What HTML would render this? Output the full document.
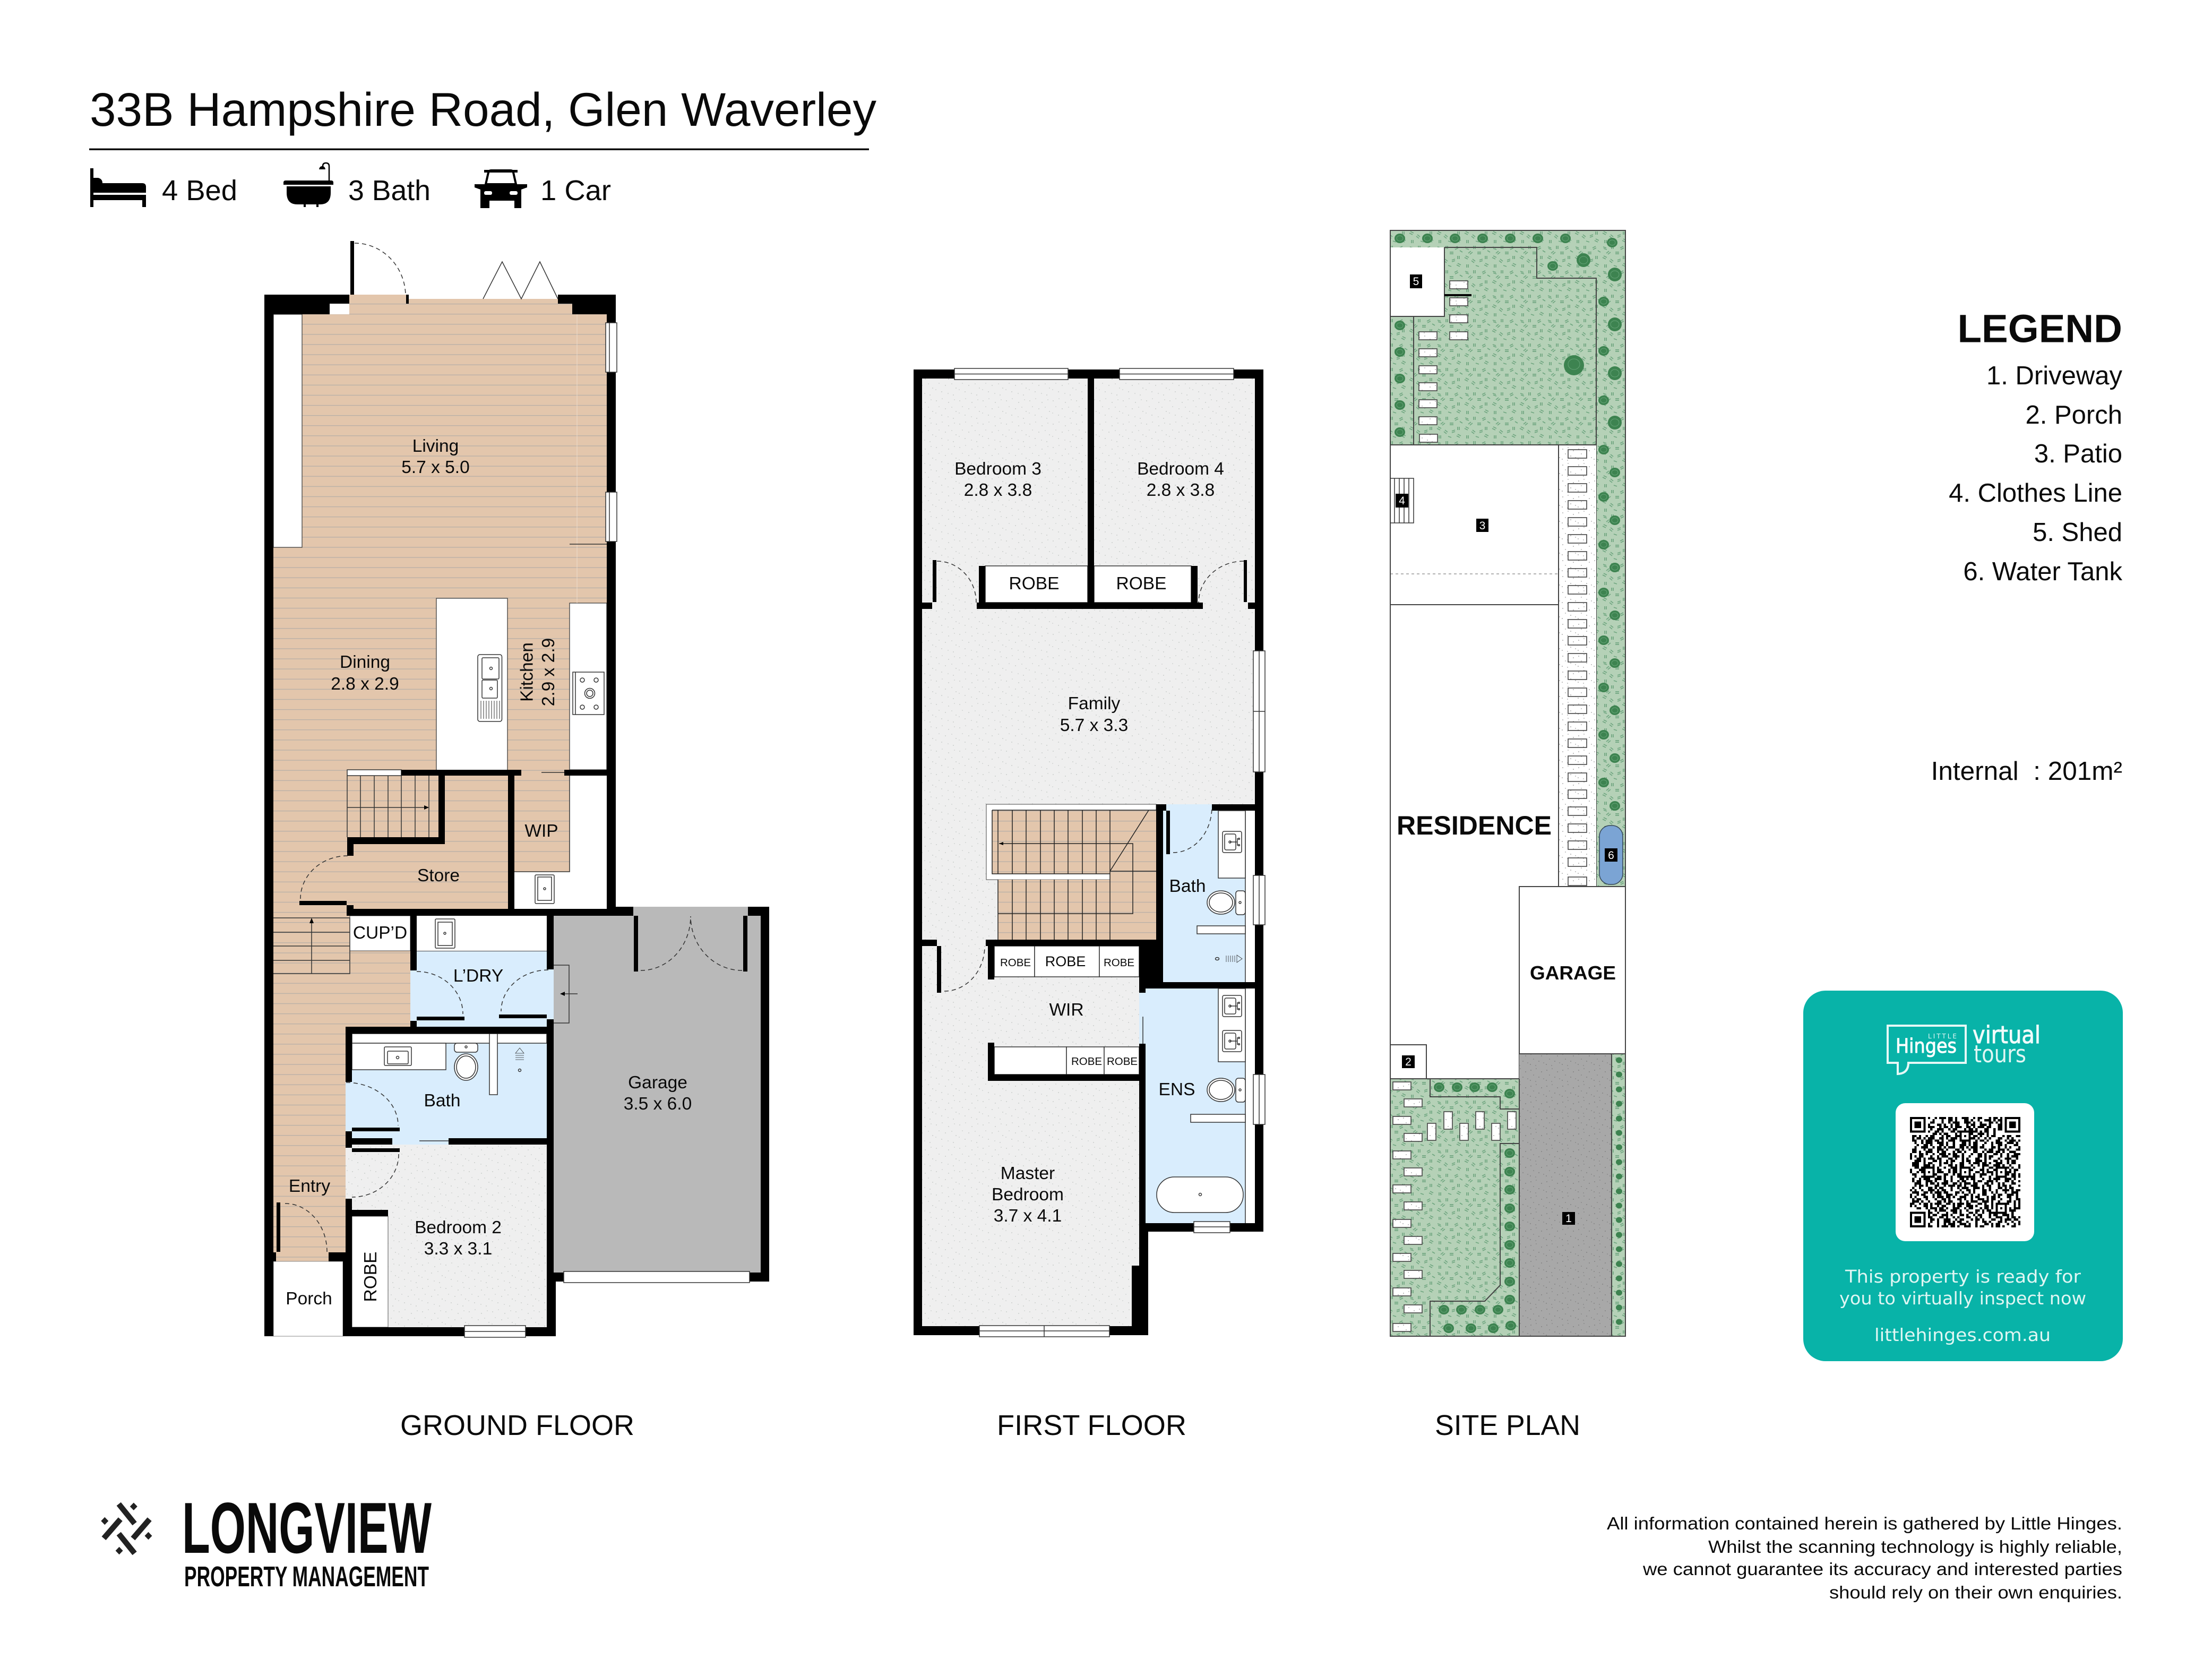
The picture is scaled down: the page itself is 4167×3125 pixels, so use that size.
<!DOCTYPE html>
<html><head><meta charset="utf-8"><title>33B Hampshire Road, Glen Waverley</title>
<style>
html,body{margin:0;padding:0;background:#fff}
svg{display:block}
text{font-family:"Liberation Sans",sans-serif;fill:#0a0a0a}
.l{font-size:33.5px;text-anchor:middle}
.n{font-size:21px;fill:#fff;text-anchor:middle}
.d{fill:none;stroke:#333;stroke-width:1.5;stroke-dasharray:8 6}
.t{fill:none;stroke:#333;stroke-width:1.5}
.w{fill:#fff;stroke:#333;stroke-width:1.5}
.s{fill:url(#grav);stroke:#444;stroke-width:1.6}
.g{fill:none;stroke:#444;stroke-width:2}
.c{font-family:"DejaVu Sans",sans-serif;fill:#dff6f3}
.q path{fill:none;stroke:#000;stroke-width:1}
.a{stroke-dasharray:2 1 1 3 2 2 1 1 3 1 2 1 1 2 3 2 1 1 2 3 1 1}
.b{stroke-dasharray:1 2 3 1 1 1 2 2 1 3 1 2 2 1 1 3 2 1 1 2}
.e{stroke-dasharray:3 1 1 2 1 3 2 1 1 1 2 3 1 2 1 1 3 2}
.f{stroke-dasharray:1 1 2 2 3 1 1 3 2 1 1 2 1 1 2 3}
.h{stroke-dasharray:2 2 1 1 1 3 1 2 3 2 1 1 2 1 1 1 3}
</style></head><body>
<svg xmlns="http://www.w3.org/2000/svg" width="4167" height="3125" viewBox="0 0 4167 3125">
<defs>
<pattern id="pl" patternUnits="userSpaceOnUse" x="0" y="591" width="40" height="19.1"><rect width="40" height="19.1" fill="#e3c6ac"/><rect y="0" width="40" height="1.3" fill="#b8afa7"/></pattern>
<pattern id="sp" patternUnits="userSpaceOnUse" width="44" height="44"><rect width="44" height="44" fill="#efefef"/><g fill="#bfc4c1"><circle cx="4" cy="7" r=".9"/><circle cx="15" cy="3" r=".8"/><circle cx="27" cy="10" r=".9"/><circle cx="38" cy="5" r=".8"/><circle cx="9" cy="18" r=".8"/><circle cx="21" cy="22" r=".9"/><circle cx="33" cy="19" r=".8"/><circle cx="41" cy="27" r=".9"/><circle cx="3" cy="30" r=".8"/><circle cx="14" cy="34" r=".9"/><circle cx="26" cy="37" r=".8"/><circle cx="36" cy="40" r=".9"/></g></pattern>
<pattern id="grav" patternUnits="userSpaceOnUse" width="30" height="30"><rect width="30" height="30" fill="#fff"/><g fill="#777"><circle cx="4" cy="6" r=".8"/><circle cx="14" cy="3" r=".7"/><circle cx="24" cy="9" r=".8"/><circle cx="9" cy="15" r=".7"/><circle cx="19" cy="19" r=".8"/><circle cx="28" cy="22" r=".7"/><circle cx="3" cy="25" r=".8"/><circle cx="13" cy="27" r=".7"/></g></pattern>
<pattern id="dr" patternUnits="userSpaceOnUse" width="30" height="30"><rect width="30" height="30" fill="#a8a8a8"/><g fill="#7a7a7a"><circle cx="4" cy="6" r=".9"/><circle cx="14" cy="3" r=".8"/><circle cx="24" cy="9" r=".9"/><circle cx="9" cy="15" r=".8"/><circle cx="19" cy="19" r=".9"/><circle cx="28" cy="22" r=".8"/><circle cx="3" cy="25" r=".9"/><circle cx="13" cy="27" r=".8"/></g></pattern>
<pattern id="gr" patternUnits="userSpaceOnUse" width="52" height="46"><rect width="52" height="46" fill="#b5d1b7"/><g stroke="#6fa680" stroke-width="1.7"><path d="M4 5l6 2M5 8l6 2M20 3v6M23 3v6M36 7l6-3M37 10l6-3M46 12l5 3M10 17l5-4M13 19l5-4M27 15h7M27 18h7M42 22v6M45 22v6M3 25l6 3M5 22l6 3M18 28l5 4M16 31l5 4M31 30l6-2M31 33l6-2M7 38v6M10 38v6M24 40l6 2M42 36l6 3M40 39l6 3"/></g></pattern>
<g id="t"><ellipse rx="10" ry="9" fill="#3d8350"/><ellipse rx="6" ry="5" fill="none" stroke="#64a376" stroke-width="1"/></g>
<g id="T"><ellipse rx="13" ry="13" fill="#3d8350"/><ellipse rx="8" ry="7" fill="none" stroke="#64a376" stroke-width="1"/></g>
<g id="m"><ellipse rx="6" ry="5.5" fill="#3d8350"/></g>
<g id="bs"><rect width="36" height="40" rx="3" class="w"/><rect x="4" y="5" width="21" height="30" rx="3" class="w"/><circle cx="14" cy="20" r="2" class="t"/><path class="t" d="M14 20h13M28 13v14"/><circle cx="31" cy="14" r="1.4" class="t"/><circle cx="31" cy="26" r="1.4" class="t"/></g>
<g id="tl"><ellipse cx="26" cy="22" rx="26" ry="22" class="w"/><ellipse cx="26" cy="22" rx="22" ry="18" class="w"/><rect x="54" y="0" width="18" height="45" rx="5" class="w"/><circle cx="62" cy="22" r="2" class="t"/></g>
</defs>
<rect width="4167" height="3125" fill="#fff"/>

<!-- header -->
<text x="169" y="237" font-size="88.7" textLength="1482" lengthAdjust="spacingAndGlyphs">33B Hampshire Road, Glen Waverley</text>
<rect x="168" y="279.5" width="1469" height="3.5" fill="#111"/>
<path d="M170 317h6v18h9q8 2 8 10h75q7 0 7 7v11H176v4h99v10h0v13h-7v-13H176v13h-6z"/>
<rect x="176" y="363" width="99" height="4" fill="#fff"/>
<path d="M534 344q0-4 4-4h86q4 0 4 4v4h-94zM540 351h83v12q0 22-20 22h-3v5h-4v-5h-20v5h-4v-5h-12q-20 0-20-22z"/>
<path d="M620 340V313q0-6-6-6t-6 6v3" fill="none" stroke="#000" stroke-width="2.5"/><path d="M601 319q1-6 6-6t6 6z"/>
<path d="M915 347l5-22q1-4 5-4h37q4 0 5 4l5 22z" fill="#fff" stroke="#000" stroke-width="4"/><rect x="912" y="320" width="63" height="5"/>
<path d="M894 347h99v6l-11 4v21h0v14h-13v-14h-47v14h-17v-14h0v-21l-11-4z"/>
<rect x="912" y="360" width="15" height="7" rx="3" fill="#fff"/><rect x="960" y="360" width="15" height="7" rx="3" fill="#fff"/>
<text x="305" y="377" font-size="54" textLength="142" lengthAdjust="spacingAndGlyphs">4 Bed</text>
<text x="656" y="377" font-size="54" textLength="155" lengthAdjust="spacingAndGlyphs">3 Bath</text>
<text x="1018" y="377" font-size="54" textLength="133" lengthAdjust="spacingAndGlyphs">1 Car</text>

<!-- GROUND FLOOR floors -->
<g fill="url(#pl)">
<path d="M515 592H658V555H765V572H770V563H1051V572H1078V592H1143V1461H1073V1642H969V1712H515ZM515 1712H773V1934H651V2376H515Z"/>
</g>
<g fill="#fff" stroke="#333" stroke-width="1.2">
<rect x="515" y="592" width="54" height="439"/>
<rect x="822" y="1127" width="134" height="328"/>
<rect x="1073" y="1136" width="70" height="314"/>
</g>
<rect x="969" y="1642" width="174" height="70" fill="#fff"/>
<rect x="1073" y="1461" width="70" height="181" fill="#fff"/>
<rect x="659" y="1725" width="114" height="66" fill="#fff" stroke="#444" stroke-width="1"/>
<path d="M1087 592V1136" fill="none" stroke="#ecdccd" stroke-width="1"/>
<path class="t" d="M1073 1025H1143M1020 1455H1063M969 1642H1073V1461"/>
<!-- blue / grey rooms -->
<rect x="785" y="1725" width="245" height="66" fill="#fff"/>
<path fill="#d9edfd" d="M785 1791H1030V1826H1043V1920H1030V1934H785V1923H773V1828H785ZM651 1947H1030V2144H845V2156H739V2144H651Z"/>
<rect x="651" y="2156" width="379" height="344" fill="url(#sp)"/>
<path fill="#b9b9b9" d="M1043 1725H1193V1708H1409V1725H1433V2398H1043Z"/>
<rect x="785" y="1791" width="245" height="1" fill="#444"/>
<rect x="663" y="2291" width="68" height="209" fill="#fff" stroke="#555" stroke-width="1"/>
<rect x="515" y="2376" width="131" height="141" fill="#fff" stroke="#888" stroke-width="1"/>
<!-- bath fixtures -->
<rect x="663" y="1947" width="367" height="18" class="w"/>
<rect x="663" y="1965" width="177" height="50" class="w"/>
<rect x="724" y="1972" width="51" height="35" rx="2" class="w"/><rect x="730" y="1980" width="39" height="24" rx="2" class="w"/><circle cx="749" cy="1992" r="2.5" class="t"/>
<rect x="856" y="1965" width="44" height="17" rx="5" class="w"/><circle cx="878" cy="1972" r="2" class="t"/>
<ellipse cx="878" cy="2010" rx="22" ry="25" class="w"/><ellipse cx="878" cy="2010" rx="18" ry="21" class="w"/>
<rect x="922" y="1947" width="15" height="115" class="w"/>
<path class="t" style="stroke-width:.8" d="M971 1984l8-10 8 10zM971 1988h16M971 1992h16M971 1996h16"/><circle cx="979" cy="2016" r="2.5" class="t"/>
<path class="t" d="M790 2149H845"/>
<!-- kitchen fixtures -->
<rect x="900" y="1233" width="45.500" height="126" rx="4" class="w"/>
<rect x="908" y="1239" width="32" height="40" rx="2" class="w"/><rect x="908" y="1281" width="29" height="34" rx="2" class="w"/>
<path class="t" style="stroke-width:1" d="M906 1320v34M911 1320v34M916 1320v34M921 1320v34M926 1320v34M931 1320v34M936 1320v34M941 1320v34"/>
<circle cx="925" cy="1259" r="2.500" class="t"/><circle cx="925" cy="1297" r="2.500" class="t"/>
<rect x="1079" y="1266" width="59" height="80" class="w"/><path class="t" d="M1084 1266v80"/>
<circle cx="1097" cy="1281" r="4" class="t"/><circle cx="1123" cy="1281" r="4" class="t"/><circle cx="1097" cy="1332" r="4" class="t"/><circle cx="1123" cy="1332" r="4" class="t"/><circle cx="1111" cy="1306" r="9.500" class="t"/><circle cx="1111" cy="1306" r="6" class="t"/>
<rect x="820" y="1731" width="37" height="55" rx="2" class="w"/><rect x="825" y="1737" width="27" height="44" class="w"/><circle cx="838" cy="1758" r="2" class="t"/>
<rect x="1008" y="1648" width="36" height="54" rx="2" class="w"/><rect x="1013" y="1652" width="26" height="44" class="w"/><circle cx="1026" cy="1674" r="2" class="t"/>
<!-- stairs -->
<rect x="654" y="1450" width="102" height="11" class="w"/>
<path class="t" d="M654 1461V1577M679 1461V1577M705 1461V1577M731 1461V1577M756 1461V1577M782 1461V1577M808 1461V1577M654 1521H806"/>
<path d="M808 1521l-9-4v8z"/>
<path class="t" d="M515 1729H659V1834H515M515 1756H659M515 1782H659M515 1809H659M587 1834V1733"/><path d="M587 1729l-4 10h8z"/>
<!-- walls -->
<path d="M660 454H667V555H660ZM498 555H658V572H621V592H515V2517H498ZM765 555H770V572H765ZM1051 555H1160V1725H1143V592H1078V572H1051ZM653 1712H1160V1725H653ZM653 1705H666V1725H653ZM564 1697H653V1705H564ZM756 1450H982V1461H756ZM1063 1450H1143V1461H1063ZM957 1455H969V1712H957ZM826 1461H838V1590H826ZM654 1577H838V1590H654ZM654 1577H666V1612H654ZM773 1725H785V1828H773ZM773 1923H785V1947H773ZM1030 1725H1043V1826H1030ZM1030 1920H1043V2397H1030ZM1030 2397H1047V2517H1030ZM651 1934H1043V1947H651ZM651 1947H663V2038H651ZM651 2131H663V2162H651ZM663 2144H739V2156H663ZM845 2144H1030V2156H845ZM663 2124H753V2131H663ZM663 2163H753V2170H663ZM785 1915H875V1922H785ZM940 1911H1030V1918H940ZM651 2258H663V2376H651ZM646 2376H663V2517H646ZM663 2279H731V2291H663ZM646 2500H1047V2517H646ZM498 2359H520V2376H498ZM619 2359H663V2376H619ZM521 2265H528V2358H521ZM1160 1708H1193V1725H1160ZM1409 1708H1449V1725H1409ZM1433 1708H1449V2414H1433ZM1043 2397H1449V2414H1043ZM1194 1725H1202V1830H1194ZM1400 1725H1408V1830H1400Z"/>
<!-- ground windows -->
<g class="w"><rect class="w" x="1141" y="608" width="21" height="93"/><rect class="w" x="1141" y="927" width="21" height="93"/><rect class="w" x="1062" y="2395" width="350" height="21"/><rect class="w" x="875" y="2497" width="115" height="22"/></g>
<path class="t" d="M1148 608v93M1148 927v93M875 2508h115"/>
<!-- doors -->
<path class="d" d="M668 458A96 100 0 0 1 764 555"/>
<path class="t" d="M910 563L946 493L982 563L1017 493L1051 563"/>
<path class="d" d="M655 1612A89 81 0 0 0 566 1693"/>
<path class="d" d="M785 1830A87 80 0 0 1 872 1910"/>
<path class="d" d="M1033 1827A89 78 0 0 0 944 1905"/>
<path class="d" d="M652 2039A98 81 0 0 1 750 2120"/>
<path class="d" d="M751 2174A88 81 0 0 1 663 2255"/>
<path class="d" d="M537 2267A79 91 0 0 1 616 2358"/>
<path class="d" d="M1207 1828A94 102 0 0 0 1301 1726"/>
<path class="d" d="M1398 1828A97 102 0 0 1 1301 1726"/>
<path class="t" d="M1043 1818H1072V1927H1043M1060 1872H1088"/><path d="M1055 1872l9-4v8z"/>
<!-- ground labels -->
<text class="l" x="820.500" y="851">Living</text><text class="l" x="820.500" y="891">5.7 x 5.0</text>
<text class="l" x="687.500" y="1258">Dining</text><text class="l" x="687.500" y="1299">2.8 x 2.9</text>
<text class="l" transform="translate(1003.500 1266) rotate(-90)">Kitchen</text><text class="l" transform="translate(1044 1266) rotate(-90)">2.9 x 2.9</text>
<text class="l" x="1020" y="1576">WIP</text><text class="l" x="826" y="1660">Store</text>
<text class="l" x="716" y="1768">CUP’D</text><text class="l" x="901" y="1849">L’DRY</text>
<text class="l" x="833" y="2084">Bath</text>
<text class="l" x="1239" y="2050">Garage</text><text class="l" x="1239" y="2090">3.5 x 6.0</text>
<text class="l" x="583" y="2245">Entry</text>
<text class="l" x="863" y="2323">Bedroom 2</text><text class="l" x="863" y="2363">3.3 x 3.1</text>
<text class="l" x="582" y="2457">Porch</text>
<text class="l" transform="translate(709 2405) rotate(-90)">ROBE</text>

<!-- FIRST FLOOR -->
<rect x="1737" y="713" width="627" height="802" fill="url(#sp)"/>
<rect x="1737" y="1515" width="409" height="983" fill="url(#sp)"/>
<rect x="2146" y="1515" width="45" height="267" fill="url(#sp)"/>
<path fill="#d9edfd" d="M2191 1515H2346V1850H2191ZM2146 1862H2346V2304H2158V1966H2146Z"/>
<rect x="2346" y="1527" width="18" height="777" fill="#fff"/><path class="t" d="M2346 1527V2304"/>
<!-- stairs -->
<rect x="1858" y="1515" width="320" height="142" fill="#fff" stroke="#444" stroke-width="1"/>
<rect x="1869" y="1526" width="309" height="120" fill="url(#pl)"/>
<rect x="1880" y="1657" width="298" height="113" fill="url(#pl)"/>
<rect x="2091" y="1646" width="87" height="11" fill="url(#pl)"/>
<path class="t" style="stroke:#222" d="M1869 1526H2178M1869 1526V1646H2091M1880 1526V1646M1907 1526V1646M1933 1526V1646M1960 1526V1646M1986 1526V1646M2012 1526V1646M2039 1526V1646M2065 1526V1646M2091 1526V1770M1880 1657V1770M1907 1657V1770M1933 1657V1770M1960 1657V1770M1986 1657V1770M2012 1657V1770M2039 1657V1770M2065 1657V1770M2091 1641L2164 1526M2091 1641H2178M1882 1589H2134V1721H1880"/>
<path d="M1882 1589l8-3v6z"/>
<!-- robes -->
<g class="w"><rect class="w" x="1856" y="1066" width="193" height="69"/><rect class="w" x="2061" y="1066" width="183" height="69"/>
<rect class="w" x="1873" y="1782" width="76" height="58"/><rect class="w" x="1949" y="1782" width="122" height="58"/><rect class="w" x="2071" y="1782" width="75" height="58"/>
<rect class="w" x="1873" y="1972" width="136" height="52"/><rect class="w" x="2009" y="1972" width="71" height="52"/><rect class="w" x="2080" y="1972" width="66" height="52"/></g>
<!-- walls -->
<path d="M1721 696H1737V2515H1721ZM1721 696H2380V713H1721ZM2364 696H2380V2320H2364ZM1721 2498H2163V2515H1721ZM2049 713H2061V1135H2049ZM1844 1066H1856V1135H1844ZM2244 1066H2256V1135H2244ZM1840 1135H2266V1147H1840ZM1737 1135H1756V1147H1737ZM2351 1135H2364V1147H2351ZM1757 1055H1764V1134H1757ZM2343 1055H2349V1134H2343ZM2178 1515H2191V1770H2178ZM2178 1515H2197V1527H2178ZM1857 1770H2191V1782H1857ZM2283 1515H2364V1527H2283ZM2197 1527H2204V1609H2197ZM2146 1782H2191V1862H2146ZM2146 1850H2380V1862H2146ZM2146 1862H2158V1870H2146ZM1861 1782H1873V1845H1861ZM1861 1964H1873V2036H1861ZM1861 2024H2158V2036H1861ZM2146 1966H2158V2304H2146ZM2158 2304H2380V2320H2158ZM2146 2304H2163V2498H2146ZM2132 2384H2163V2498H2132ZM1737 1770H1765V1782H1737ZM1765 1782H1773V1870H1765Z"/>
<!-- fixtures -->
<rect x="2295" y="1527" width="51" height="127" class="w"/><use href="#bs" x="2303" y="1566"/>
<use href="#tl" x="2274" y="1678"/>
<rect x="2255" y="1744" width="91" height="15" class="w"/>
<ellipse cx="2293" cy="1806" rx="3.500" ry="2.500" class="t"/><path class="t" style="stroke-width:.8" d="M2310 1800v12M2314 1800v12M2318 1800v12M2322 1800v12M2326 1800v12M2330 1799l10 7-10 7z"/>
<rect x="2295" y="1862" width="51" height="138" class="w"/><use href="#bs" x="2303" y="1875"/><use href="#bs" x="2303" y="1941"/>
<use href="#tl" x="2274" y="2031"/>
<rect x="2243" y="2099" width="103" height="15" class="w"/>
<rect x="2179" y="2217" width="163" height="67" rx="33" class="w"/><circle cx="2261" cy="2250" r="2.500" class="t"/>
<path class="t" d="M2153 1915V1966"/>
<!-- windows -->
<rect class="w" x="1798" y="694" width="214" height="21"/><rect class="w" x="2109" y="694" width="215" height="21"/>
<rect class="w" x="2361" y="1226" width="22" height="228"/><rect class="w" x="2361" y="1649" width="22" height="93"/><rect class="w" x="2361" y="2024" width="22" height="94"/>
<rect class="w" x="2249" y="2301" width="68" height="21"/><rect class="w" x="1845" y="2497" width="245" height="21"/>
<path class="t" d="M1798 704.500H2012M2109 704.500H2324M2372 1226V1454M2361 1340H2383M2372 1649V1742M2372 2024V2118M2249 2311H2317M1845 2507H2090M1967 2497V2518"/>
<!-- doors -->
<path class="d" d="M1765 1057A74 78 0 0 1 1839 1135"/>
<path class="d" d="M2343 1057A85 78 0 0 0 2258 1135"/>
<path class="d" d="M2210 1606A73 86 0 0 0 2283 1520"/>
<path class="d" d="M1779 1867A76 85 0 0 0 1855 1782"/>
<!-- labels -->
<text class="l" x="1880" y="894">Bedroom 3</text><text class="l" x="1880" y="934">2.8 x 3.8</text>
<text class="l" x="2224" y="894">Bedroom 4</text><text class="l" x="2224" y="934">2.8 x 3.8</text>
<text class="l" x="1948" y="1110">ROBE</text><text class="l" x="2150" y="1110">ROBE</text>
<text class="l" x="2061" y="1336">Family</text><text class="l" x="2061" y="1377">5.7 x 3.3</text>
<text class="l" x="2237" y="1680">Bath</text><text class="l" x="2217" y="2063">ENS</text><text class="l" x="2009" y="1913">WIR</text>
<text class="l" x="1936" y="2221">Master</text><text class="l" x="1936" y="2261">Bedroom</text><text class="l" x="1936" y="2301">3.7 x 4.1</text>
<text x="1913" y="1820" font-size="20.500" text-anchor="middle">ROBE</text><text x="2007" y="1820" font-size="27" text-anchor="middle">ROBE</text><text x="2108" y="1820" font-size="20.500" text-anchor="middle">ROBE</text>
<text x="2047" y="2006" font-size="20.500" text-anchor="middle">ROBE</text><text x="2114" y="2006" font-size="20.500" text-anchor="middle">ROBE</text>

<!-- SITE PLAN -->
<rect x="2619" y="434" width="443" height="2083" fill="url(#gr)"/>
<rect x="2619" y="466" width="102" height="130" fill="#fff"/>
<path class="g" d="M2721 466V596H2619M2721 466H2895V524H3007V1670M2663 596V838"/>
<rect x="2619" y="838" width="317" height="832" fill="#fff"/><rect x="2619" y="1670" width="243" height="362" fill="#fff"/>
<rect x="2936" y="838" width="71" height="832" fill="url(#grav)"/>
<path class="g" d="M2619 838H3007M2936 838V1670"/>
<path d="M2619 1081H2936" fill="none" stroke="#666" stroke-width="1" stroke-dasharray="5 5"/>
<path class="g" d="M2619 1139H2936"/>
<rect x="2862" y="1670" width="200" height="315" fill="#fff"/>
<path class="g" d="M2862 2032V1670H3062"/>
<rect x="2862" y="1985" width="174" height="532" fill="url(#dr)"/>
<path class="g" d="M2862 1985H3062M3036 1985V2517M2862 2032V2517M2619 2032H2862M2619 1968H2687V2032"/>
<path class="g" d="M2694 2032V2066H2826V2089H2862M2862 2154H2826V2421L2797 2451H2694V2517"/>
<rect x="2619" y="434" width="443" height="2083" class="g"/>
<rect x="2721" y="554" width="51" height="4"/>
<path class="t" d="M2627 901V985M2636 901V985M2645 901V985M2654 901V985M2619 901H2663V985H2619"/>
<rect x="3013" y="1555" width="44" height="111" rx="20" fill="#7ba4d4" stroke="#345" stroke-width="1.500"/>
<!-- stones -->
<g>
<rect class="s" x="2954" y="847" width="35" height="16"/><rect class="s" x="2954" y="879" width="35" height="16"/><rect class="s" x="2954" y="911" width="35" height="16"/><rect class="s" x="2954" y="943" width="35" height="16"/><rect class="s" x="2954" y="975" width="35" height="16"/><rect class="s" x="2954" y="1007" width="35" height="16"/><rect class="s" x="2954" y="1039" width="35" height="16"/><rect class="s" x="2954" y="1071" width="35" height="16"/><rect class="s" x="2954" y="1103" width="35" height="16"/><rect class="s" x="2954" y="1135" width="35" height="16"/><rect class="s" x="2954" y="1167" width="35" height="16"/><rect class="s" x="2954" y="1199" width="35" height="16"/><rect class="s" x="2954" y="1231" width="35" height="16"/><rect class="s" x="2954" y="1264" width="35" height="16"/><rect class="s" x="2954" y="1296" width="35" height="16"/><rect class="s" x="2954" y="1328" width="35" height="16"/><rect class="s" x="2954" y="1360" width="35" height="16"/><rect class="s" x="2954" y="1392" width="35" height="16"/><rect class="s" x="2954" y="1424" width="35" height="16"/><rect class="s" x="2954" y="1456" width="35" height="16"/><rect class="s" x="2954" y="1488" width="35" height="16"/><rect class="s" x="2954" y="1520" width="35" height="16"/><rect class="s" x="2954" y="1552" width="35" height="16"/><rect class="s" x="2954" y="1584" width="35" height="16"/><rect class="s" x="2954" y="1616" width="35" height="16"/><rect class="s" x="2954" y="1652" width="35" height="16"/>
<rect class="s" x="2731" y="529" width="34" height="15"/><rect class="s" x="2731" y="561" width="34" height="15"/><rect class="s" x="2731" y="593" width="34" height="15"/><rect class="s" x="2731" y="625" width="34" height="15"/>
<rect class="s" x="2673" y="625" width="34" height="15"/><rect class="s" x="2673" y="657" width="34" height="15"/><rect class="s" x="2673" y="689" width="34" height="15"/><rect class="s" x="2673" y="721" width="34" height="15"/><rect class="s" x="2673" y="753" width="34" height="15"/><rect class="s" x="2673" y="785" width="34" height="15"/><rect class="s" x="2674" y="818" width="34" height="15"/>
<rect class="s" x="2624" y="2038" width="34" height="15"/><rect class="s" x="2645" y="2070" width="34" height="15"/><rect class="s" x="2624" y="2103" width="34" height="15"/><rect class="s" x="2645" y="2135" width="34" height="15"/><rect class="s" x="2624" y="2168" width="34" height="15"/><rect class="s" x="2645" y="2200" width="34" height="15"/><rect class="s" x="2624" y="2232" width="34" height="15"/><rect class="s" x="2645" y="2264" width="34" height="15"/><rect class="s" x="2624" y="2297" width="34" height="15"/><rect class="s" x="2645" y="2329" width="34" height="15"/><rect class="s" x="2624" y="2361" width="34" height="15"/><rect class="s" x="2645" y="2393" width="34" height="15"/><rect class="s" x="2624" y="2426" width="34" height="15"/><rect class="s" x="2645" y="2458" width="34" height="15"/><rect class="s" x="2624" y="2493" width="34" height="15"/>
<rect class="s" x="2689" y="2116" width="16" height="32"/><rect class="s" x="2720" y="2094" width="16" height="33"/><rect class="s" x="2750" y="2116" width="16" height="32"/><rect class="s" x="2780" y="2094" width="16" height="33"/><rect class="s" x="2810" y="2116" width="16" height="32"/><rect class="s" x="2840" y="2094" width="16" height="33"/>
</g>
<!-- trees -->
<g>
<use href="#t" x="2637" y="449"/><use href="#t" x="2689" y="449"/><use href="#t" x="2741" y="449"/><use href="#t" x="2793" y="449"/><use href="#t" x="2845" y="449"/><use href="#t" x="2897" y="449"/><use href="#t" x="2949" y="449"/>
<use href="#t" x="3037" y="457"/><use href="#t" x="2925" y="501"/><use href="#T" x="2983" y="490"/>
<use href="#T" x="3042" y="517"/><use href="#t" x="3021" y="568"/><use href="#T" x="3042" y="611"/><use href="#t" x="3021" y="661"/><use href="#T" x="3042" y="703"/><use href="#t" x="3021" y="754"/><use href="#T" x="3042" y="796"/><use href="#t" x="3021" y="847"/><use href="#t" x="3042" y="890"/><use href="#t" x="3021" y="936"/><use href="#t" x="3042" y="980"/><use href="#t" x="3021" y="1026"/><use href="#t" x="3042" y="1069"/><use href="#t" x="3021" y="1116"/><use href="#t" x="3042" y="1159"/><use href="#t" x="3021" y="1206"/><use href="#t" x="3042" y="1249"/><use href="#t" x="3021" y="1295"/><use href="#t" x="3042" y="1338"/><use href="#t" x="3021" y="1384"/><use href="#t" x="3042" y="1428"/><use href="#t" x="3021" y="1474"/><use href="#t" x="3042" y="1518"/>
<use href="#t" x="2637" y="613"/><use href="#t" x="2637" y="663"/><use href="#t" x="2637" y="713"/><use href="#t" x="2637" y="763"/><use href="#t" x="2637" y="814"/>
<ellipse cx="2965" cy="688" rx="19" ry="19" fill="#3d8350"/><ellipse cx="2965" cy="686" rx="11" ry="10" fill="none" stroke="#64a376"/>
<use href="#t" x="2711" y="2048"/><use href="#t" x="2745" y="2048"/><use href="#t" x="2778" y="2048"/><use href="#t" x="2811" y="2048"/><use href="#t" x="2844" y="2060"/>
<use href="#t" x="2844" y="2172"/><use href="#t" x="2844" y="2207"/><use href="#t" x="2844" y="2241"/><use href="#t" x="2844" y="2276"/><use href="#t" x="2844" y="2310"/><use href="#t" x="2844" y="2345"/><use href="#t" x="2844" y="2379"/><use href="#t" x="2844" y="2414"/><use href="#t" x="2844" y="2448"/>
<use href="#t" x="2720" y="2467"/><use href="#t" x="2753" y="2467"/><use href="#t" x="2788" y="2467"/><use href="#t" x="2822" y="2467"/><use href="#t" x="2729" y="2502"/><use href="#t" x="2771" y="2502"/><use href="#t" x="2813" y="2502"/><use href="#t" x="2846" y="2497"/>
<use href="#m" x="3050" y="1997"/><use href="#m" x="3050" y="2024"/><use href="#m" x="3050" y="2052"/><use href="#m" x="3050" y="2079"/><use href="#m" x="3050" y="2107"/><use href="#m" x="3050" y="2134"/><use href="#m" x="3050" y="2161"/><use href="#m" x="3050" y="2189"/><use href="#m" x="3050" y="2216"/><use href="#m" x="3050" y="2244"/><use href="#m" x="3050" y="2271"/><use href="#m" x="3050" y="2298"/><use href="#m" x="3050" y="2326"/><use href="#m" x="3050" y="2353"/><use href="#m" x="3050" y="2381"/><use href="#m" x="3050" y="2408"/><use href="#m" x="3050" y="2435"/><use href="#m" x="3050" y="2463"/><use href="#m" x="3050" y="2490"/>
</g>
<!-- site labels -->
<rect x="2943" y="2283" width="24" height="24"/><text class="n" x="2955" y="2302">1</text>
<rect x="2641" y="1988" width="24" height="24"/><text class="n" x="2653" y="2007">2</text>
<rect x="2781" y="977" width="23" height="25"/><text class="n" x="2792.500" y="997">3</text>
<rect x="2629" y="930" width="24" height="26"/><text class="n" x="2641" y="950">4</text>
<rect x="2656" y="517" width="23" height="26"/><text class="n" x="2667.500" y="537">5</text>
<rect x="3023" y="1598" width="24" height="25"/><text class="n" x="3035" y="1618">6</text>
<text x="2631" y="1572" font-size="50" font-weight="bold" textLength="292" lengthAdjust="spacingAndGlyphs">RESIDENCE</text>
<text x="2882" y="1845" font-size="36" font-weight="bold" textLength="162" lengthAdjust="spacingAndGlyphs">GARAGE</text>

<!-- floor titles -->
<text x="754" y="2703" font-size="53.600" textLength="441" lengthAdjust="spacingAndGlyphs">GROUND FLOOR</text>
<text x="1878" y="2703" font-size="53.600" textLength="357" lengthAdjust="spacingAndGlyphs">FIRST FLOOR</text>
<text x="2703" y="2703" font-size="53.600" textLength="274" lengthAdjust="spacingAndGlyphs">SITE PLAN</text>

<!-- legend -->
<g text-anchor="end">
<text x="3998" y="644.500" font-size="74.500" font-weight="bold">LEGEND</text>
<text x="3998" y="724" font-size="49">1. Driveway</text>
<text x="3998" y="798" font-size="49">2. Porch</text>
<text x="3998" y="871" font-size="49">3. Patio</text>
<text x="3998" y="945" font-size="49">4. Clothes Line</text>
<text x="3998" y="1019" font-size="49">5. Shed</text>
<text x="3998" y="1093" font-size="49">6. Water Tank</text>
<text x="3998" y="1469" font-size="49.500" xml:space="preserve">Internal  : 201m²</text>
</g>

<!-- teal card -->
<rect x="3397" y="1866" width="602" height="698" rx="42" fill="#08b3a8"/>
<path d="M3556 1932H3703V2002H3595Q3595 2022 3575 2023V2002H3556Z" fill="none" stroke="#e6f8f6" stroke-width="4"/>
<text class="c" x="3632" y="1956" font-size="12" textLength="54" style="fill:#e6f8f6">LITTLE</text>
<text class="c" x="3571" y="1983" font-size="37" textLength="115" lengthAdjust="spacingAndGlyphs" style="fill:#fff;stroke:#fff;stroke-width:.9">Hinges</text>
<text class="c" x="3716" y="1965" font-size="45" textLength="128" lengthAdjust="spacingAndGlyphs" style="fill:#f0fbfa;stroke:#f0fbfa;stroke-width:1">virtual</text>
<text class="c" x="3718" y="2001" font-size="45" textLength="99" lengthAdjust="spacingAndGlyphs">tours</text>
<rect x="3571" y="2078" width="261" height="260" rx="18" fill="#fff"/>
<g class="q" transform="translate(3598 2104) scale(4.245)" shape-rendering="crispEdges">
<path class="a" d="M0 .5H49"/><path class="b" stroke-dashoffset="3" d="M0 1.500H49"/><path class="e" stroke-dashoffset="7" d="M0 2.500H49"/><path class="f" stroke-dashoffset="2" d="M0 3.500H49"/><path class="h" stroke-dashoffset="5" d="M0 4.500H49"/><path class="a" stroke-dashoffset="11" d="M0 5.500H49"/><path class="b" stroke-dashoffset="9" d="M0 6.500H49"/><path class="e" stroke-dashoffset="1" d="M0 7.500H49"/><path class="f" stroke-dashoffset="13" d="M0 8.500H49"/><path class="h" stroke-dashoffset="17" d="M0 9.500H49"/><path class="a" stroke-dashoffset="6" d="M0 10.500H49"/><path class="e" stroke-dashoffset="19" d="M0 11.500H49"/><path class="b" stroke-dashoffset="14" d="M0 12.500H49"/><path class="h" stroke-dashoffset="8" d="M0 13.500H49"/><path class="f" stroke-dashoffset="21" d="M0 14.500H49"/><path class="a" stroke-dashoffset="16" d="M0 15.500H49"/><path class="b" stroke-dashoffset="23" d="M0 16.500H49"/><path class="e" stroke-dashoffset="12" d="M0 17.500H49"/><path class="h" stroke-dashoffset="27" d="M0 18.500H49"/><path class="f" stroke-dashoffset="4" d="M0 19.500H49"/><path class="a" stroke-dashoffset="22" d="M0 20.500H49"/><path class="e" stroke-dashoffset="25" d="M0 21.500H49"/><path class="b" stroke-dashoffset="18" d="M0 22.500H49"/><path class="f" stroke-dashoffset="10" d="M0 23.500H49"/><path class="h" stroke-dashoffset="1" d="M0 24.500H49"/><path class="a" stroke-dashoffset="29" d="M0 25.500H49"/><path class="b" stroke-dashoffset="15" d="M0 26.500H49"/><path class="e" stroke-dashoffset="20" d="M0 27.500H49"/><path class="f" stroke-dashoffset="26" d="M0 28.500H49"/><path class="h" stroke-dashoffset="11" d="M0 29.500H49"/><path class="a" stroke-dashoffset="33" d="M0 30.500H49"/><path class="e" stroke-dashoffset="3" d="M0 31.500H49"/><path class="b" stroke-dashoffset="28" d="M0 32.500H49"/><path class="h" stroke-dashoffset="24" d="M0 33.500H49"/><path class="f" stroke-dashoffset="17" d="M0 34.500H49"/><path class="a" stroke-dashoffset="38" d="M0 35.500H49"/><path class="b" stroke-dashoffset="6" d="M0 36.500H49"/><path class="e" stroke-dashoffset="30" d="M0 37.500H49"/><path class="h" stroke-dashoffset="14" d="M0 38.500H49"/><path class="f" stroke-dashoffset="8" d="M0 39.500H49"/><path class="a" stroke-dashoffset="41" d="M0 40.500H49"/><path class="e" stroke-dashoffset="13" d="M0 41.500H49"/><path class="b" stroke-dashoffset="34" d="M0 42.500H49"/><path class="f" stroke-dashoffset="19" d="M0 43.500H49"/><path class="h" stroke-dashoffset="31" d="M0 44.500H49"/><path class="a" stroke-dashoffset="45" d="M0 45.500H49"/><path class="b" stroke-dashoffset="21" d="M0 46.500H49"/><path class="e" stroke-dashoffset="9" d="M0 47.500H49"/><path class="a" stroke-dashoffset="36" d="M0 48.500H49"/>
<g shape-rendering="crispEdges">
<rect width="8" height="8" fill="#fff"/><rect width="7" height="7"/><rect x="1" y="1" width="5" height="5" fill="#fff"/><rect x="2" y="2" width="3" height="3"/>
<rect x="41" width="8" height="8" fill="#fff"/><rect x="42" width="7" height="7"/><rect x="43" y="1" width="5" height="5" fill="#fff"/><rect x="44" y="2" width="3" height="3"/>
<rect y="41" width="8" height="8" fill="#fff"/><rect y="42" width="7" height="7"/><rect x="1" y="43" width="5" height="5" fill="#fff"/><rect x="2" y="44" width="3" height="3"/>
<rect x="22" y="6" width="5" height="5"/><rect x="23" y="7" width="3" height="3" fill="#fff"/><rect x="24" y="8" width="1" height="1"/>
<rect x="22" y="22" width="5" height="5"/><rect x="23" y="23" width="3" height="3" fill="#fff"/><rect x="24" y="24" width="1" height="1"/>
<rect x="6" y="22" width="5" height="5"/><rect x="7" y="23" width="3" height="3" fill="#fff"/><rect x="8" y="24" width="1" height="1"/>
<rect x="38" y="22" width="5" height="5"/><rect x="39" y="23" width="3" height="3" fill="#fff"/><rect x="40" y="24" width="1" height="1"/>
<rect x="38" y="38" width="5" height="5"/><rect x="39" y="39" width="3" height="3" fill="#fff"/><rect x="40" y="40" width="1" height="1"/>
</g></g>
<text class="c" x="3476" y="2416" font-size="33" textLength="444" lengthAdjust="spacingAndGlyphs">This property is ready for</text>
<text class="c" x="3465" y="2457" font-size="33" textLength="465" lengthAdjust="spacingAndGlyphs">you to virtually inspect now</text>
<text class="c" x="3531" y="2526" font-size="33" textLength="332" lengthAdjust="spacingAndGlyphs">littlehinges.com.au</text>

<!-- Longview logo -->
<g fill="none" stroke="#222" stroke-width="10.500">
<path d="M223.700 2833L253.600 2870M281.700 2861.700L250.400 2898M223.700 2889L253.600 2926M226.800 2861.700L195.500 2897.700"/>
</g>
<g fill="#222"><path d="M251.800 2830.500l7 7.200-7 7.200-7-7.200zM197.300 2857.800l7 7.200-7 7.200-7-7.200zM279.500 2885.800l7 7.200-7 7.200-7-7.200zM224.600 2913.800l7 7.200-7 7.200-7-7.200z"/></g>
<text x="343" y="2925" font-size="136" font-weight="bold" textLength="470" lengthAdjust="spacingAndGlyphs">LONGVIEW</text>
<text x="347" y="2988" font-size="54" font-weight="bold" textLength="461" lengthAdjust="spacingAndGlyphs">PROPERTY MANAGEMENT</text>

<!-- disclaimer -->
<text x="3027" y="2881" font-size="33.500" textLength="971" lengthAdjust="spacingAndGlyphs">All information contained herein is gathered by Little Hinges.</text>
<text x="3218" y="2925" font-size="33.500" textLength="780" lengthAdjust="spacingAndGlyphs">Whilst the scanning technology is highly reliable,</text>
<text x="3095" y="2967" font-size="33.500" textLength="903" lengthAdjust="spacingAndGlyphs">we cannot guarantee its accuracy and interested parties</text>
<text x="3446" y="3011" font-size="33.500" textLength="552" lengthAdjust="spacingAndGlyphs">should rely on their own enquiries.</text>
</svg>
</body></html>
